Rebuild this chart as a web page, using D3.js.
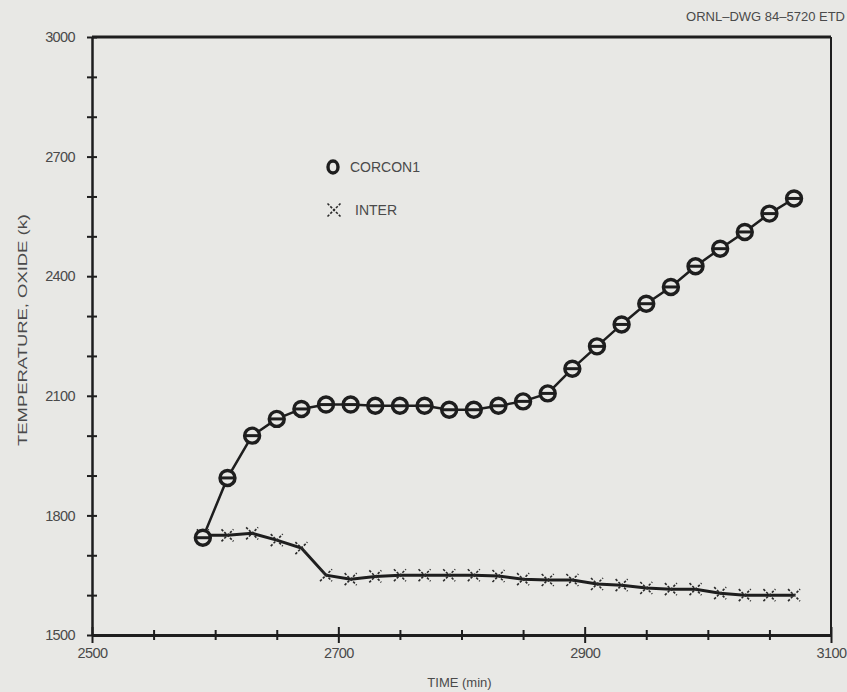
<!DOCTYPE html>
<html><head><meta charset="utf-8">
<script src="https://cdn.jsdelivr.net/npm/d3@7"></script>
<style>
body{margin:0;background:#e8e8e5;}
svg{display:block;}
text{font-family:"Liberation Sans",Arial,sans-serif;fill:#4a4a4a;}
</style></head>
<body><svg id="c" width="847" height="692"></svg>
<script>
const timeMin = [2590,2610,2630,2650,2670,2690,2710,2730,2750,2770,2790,2810,2830,2850,2870,2890,2910,2930,2950,2970,2990,3010,3030,3050,3070];
const corcon1 = [1744,1894,2000,2042,2067,2078,2078,2075,2075,2075,2065,2065,2075,2086,2106,2168,2224,2279,2331,2373,2425,2469,2511,2557,2595];
const inter   = [1750,1750,1755,1738,1718,1650,1640,1647,1650,1650,1650,1650,1648,1640,1638,1638,1628,1625,1618,1615,1615,1605,1600,1600,1600];
const xTickLabels = [2500,2700,2900,3100];
const yTickLabels = [1500,1800,2100,2400,2700,3000];
const seriesNames = ["CORCON1","INTER"];

const svg = d3.select("#c");
const x = d3.scaleLinear().domain([2500,3100]).range([92,831]);
const y = d3.scaleLinear().domain([1500,3000]).range([635,37]);
const ink = "#1e1e1e";

// frame: top and right
svg.append("line").attr("x1",x(2500)).attr("x2",x(3100)).attr("y1",y(3000)).attr("y2",y(3000)).attr("stroke",ink).attr("stroke-width",3);
svg.append("line").attr("x1",x(3100)).attr("x2",x(3100)).attr("y1",y(3000)).attr("y2",y(1500)).attr("stroke",ink).attr("stroke-width",2);

// bottom axis
const xAxis = d3.axisBottom(x).tickValues(d3.range(2500,3101,50)).tickSize(0).tickPadding(13)
  .tickFormat(d => xTickLabels.includes(d) ? d : "");
const gx = svg.append("g").attr("transform",`translate(0,${y(1500)})`).call(xAxis);
gx.select(".domain").attr("stroke",ink).attr("stroke-width",3);
gx.selectAll(".tick line").attr("stroke",ink).attr("stroke-width",2)
  .attr("y1",d => (d%200===100) ? -8 : -5).attr("y2",d => (d%200===100) ? 8 : 5);
gx.selectAll(".tick text").attr("font-size",14.5).style("fill","#4a4a4a")
  .attr("font-family","Liberation Sans, sans-serif").attr("letter-spacing",-0.6);

// left axis
const yAxis = d3.axisLeft(y).tickValues(d3.range(1500,3001,100)).tickSize(0).tickPadding(17)
  .tickFormat(d => yTickLabels.includes(d) ? d : "");
const gy = svg.append("g").attr("transform",`translate(${x(2500)},0)`).call(yAxis);
gy.select(".domain").attr("stroke",ink).attr("stroke-width",2.5);
gy.selectAll(".tick line").attr("stroke",ink).attr("stroke-width",2).attr("x1",-5).attr("x2",5);
gy.selectAll(".tick text").attr("font-size",14.5).style("fill","#4a4a4a")
  .attr("font-family","Liberation Sans, sans-serif").attr("letter-spacing",-0.6);

// titles
svg.append("text").attr("x",x(2800)-2).attr("y",687).attr("text-anchor","middle").attr("font-size",13).text("TIME (min)");
svg.append("text").attr("transform",`translate(27,${y(2250)-6}) rotate(-90)`).attr("text-anchor","middle").attr("font-size",13.5)
  .attr("textLength",232).attr("lengthAdjust","spacingAndGlyphs").text("TEMPERATURE, OXIDE (k)");
svg.append("text").attr("x",845).attr("y",21).attr("text-anchor","end").attr("font-size",13).text("ORNL\u2013DWG 84\u20135720  ETD");

const line = d3.line().x((d,i)=>x(timeMin[i])).y(d=>y(d));
svg.append("path").datum(corcon1).attr("d",line).attr("fill","none").attr("stroke",ink).attr("stroke-width",2.5);
svg.append("path").datum(inter).attr("d",line).attr("fill","none").attr("stroke",ink).attr("stroke-width",3);

// INTER markers (X)
function xMark(g, cx, cy, s, sw){
  g.append("path").attr("d",`M${cx-s},${cy-s}L${cx+s},${cy+s}M${cx-s},${cy+s}L${cx+s},${cy-s}`)
   .attr("stroke","#2a2a2a").attr("stroke-width",sw).attr("stroke-dasharray","2.5,1.5").attr("fill","none");
}
const gi = svg.append("g");
inter.forEach((v,i)=>xMark(gi, x(timeMin[i]), y(v), 6, 1.6));

// CORCON1 markers (ring with bar)
function oMark(g, cx, cy){
  g.append("circle").attr("cx",cx).attr("cy",cy).attr("r",7.5).attr("fill","#e8e8e5").attr("stroke",ink).attr("stroke-width",3.4);
  g.append("line").attr("x1",cx-7.5).attr("x2",cx+7.5).attr("y1",cy).attr("y2",cy).attr("stroke",ink).attr("stroke-width",3);
}
const gc = svg.append("g");
corcon1.forEach((v,i)=>oMark(gc, x(timeMin[i]), y(v)));

// legend
const lg = svg.append("g");
lg.append("ellipse").attr("cx",333).attr("cy",167).attr("rx",5).attr("ry",6).attr("fill","none").attr("stroke",ink).attr("stroke-width",3.4);
lg.append("text").attr("x",350).attr("y",172).attr("font-size",14).text(seriesNames[0]);
xMark(lg, 334, 210, 6.5, 1.6);
lg.append("text").attr("x",355).attr("y",215).attr("font-size",14).text(seriesNames[1]);
</script></body></html>
